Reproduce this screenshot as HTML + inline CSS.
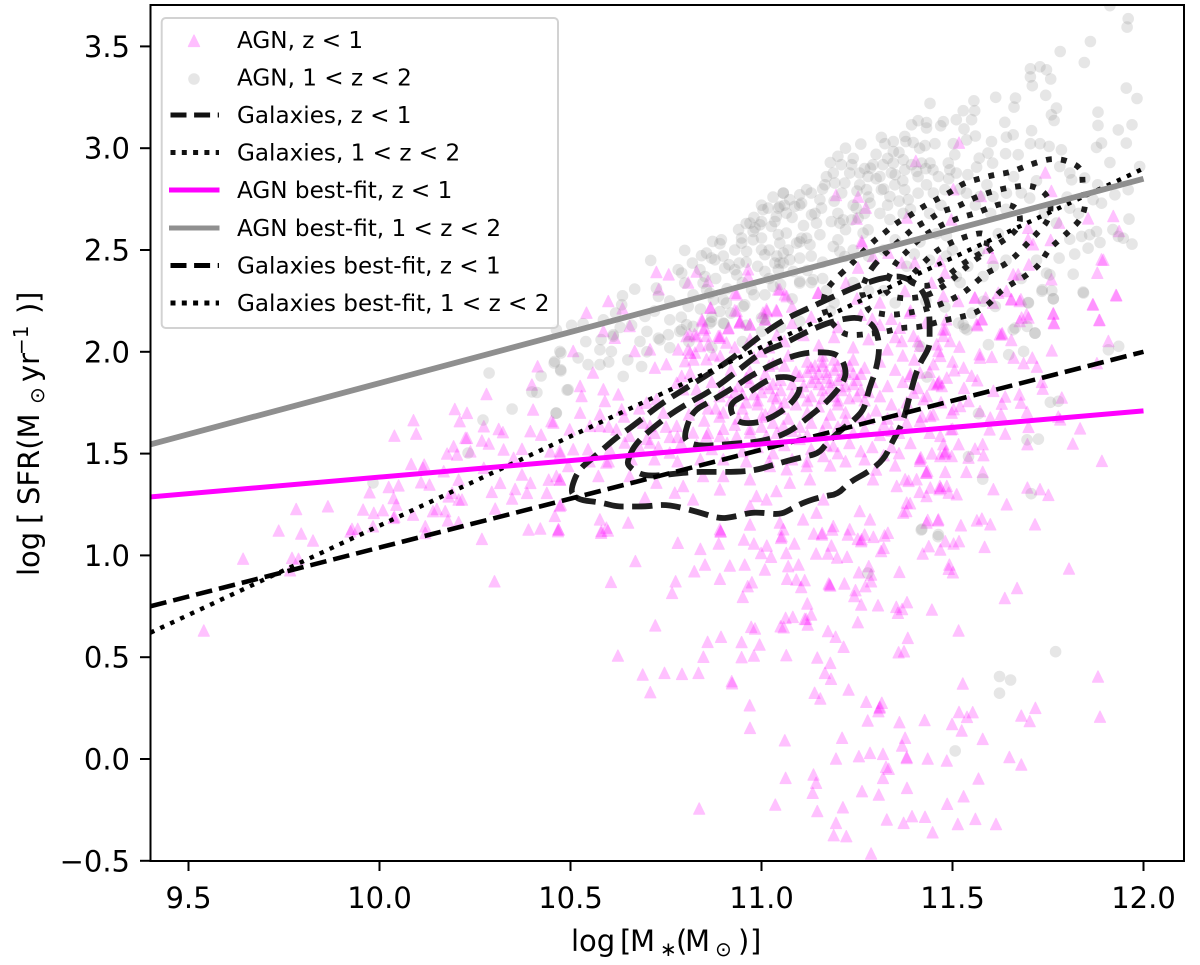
<!DOCTYPE html>
<html lang="en">
<head>
<meta charset="utf-8">
<title>SFR vs stellar mass</title>
<style>
html,body{margin:0;padding:0;background:#fff;}
svg{display:block;}
text{font-family:"DejaVu Sans","Liberation Sans",sans-serif;fill:#000;}
</style>
</head>
<body>
<svg id="chart" xmlns="http://www.w3.org/2000/svg" width="1200" height="965" viewBox="0 0 1200 965">
<defs><clipPath id="plot-clip"><rect x="151" y="6" width="1033" height="855"/></clipPath></defs>
<g id="marks" clip-path="url(#plot-clip)"></g>
<g id="axes"></g>
<g id="legend">
<rect x="161.7" y="18" width="396.3" height="310" rx="4" fill="#fff" fill-opacity="0.8" stroke="#d2d2d2" stroke-width="2"/>
<path d="M194 35 L199.6 46.5 L188.4 46.5 Z" fill="#f0f" opacity="0.25" stroke="#f0f" stroke-width="1.2" stroke-linejoin="round"/>
<circle cx="194" cy="79" r="5.8" fill="#808080" fill-opacity="0.2"/>
<line x1="170.5" x2="219" y1="115" y2="115" stroke="#111" stroke-width="5" stroke-dasharray="16 7.6"/>
<line x1="170.5" x2="219" y1="152.5" y2="152.5" stroke="#111" stroke-width="5" stroke-dasharray="5 6.3"/>
<line x1="169" x2="219.5" y1="190" y2="190" stroke="#f0f" stroke-width="5"/>
<line x1="169" x2="219.5" y1="228" y2="228" stroke="#909090" stroke-width="5"/>
<line x1="170.5" x2="219" y1="265.5" y2="265.5" stroke="#000" stroke-width="5" stroke-dasharray="16 7.6"/>
<line x1="170.5" x2="219" y1="303" y2="303" stroke="#000" stroke-width="5" stroke-dasharray="5 6.3"/>
<g font-size="23.1">
<text x="237" y="48">AGN, z &lt; 1</text>
<text x="237" y="85.5">AGN, 1 &lt; z &lt; 2</text>
<text x="237" y="123">Galaxies, z &lt; 1</text>
<text x="237" y="160.5">Galaxies, 1 &lt; z &lt; 2</text>
<text x="237" y="198">AGN best-fit, z &lt; 1</text>
<text x="237" y="236">AGN best-fit, 1 &lt; z &lt; 2</text>
<text x="237" y="273.5">Galaxies best-fit, z &lt; 1</text>
<text x="237" y="311">Galaxies best-fit, 1 &lt; z &lt; 2</text>
</g>
</g>
<text transform="translate(39,576) rotate(-90)" font-size="29"><tspan x="0">log</tspan><tspan x="52">[</tspan><tspan x="71">SFR(M</tspan><tspan x="172" dy="5" font-size="20">⊙</tspan><tspan x="194" dy="-5">yr</tspan><tspan x="221" dy="-11" font-size="20">−1</tspan><tspan x="262" dy="11">)</tspan><tspan x="273">]</tspan></text>
<text y="951" font-size="29"><tspan x="571">log</tspan><tspan x="620">[</tspan><tspan x="630">M</tspan><tspan x="660" dy="5" font-size="20">∗</tspan><tspan x="676" dy="-5">(</tspan><tspan x="685">M</tspan><tspan x="715" dy="5" font-size="20">⊙</tspan><tspan x="738" dy="-5">)</tspan><tspan x="750">]</tspan></text>
</svg>
<script>
const xTickValues = [9.5, 10.0, 10.5, 11.0, 11.5, 12.0];
const xTickLabels = ["9.5", "10.0", "10.5", "11.0", "11.5", "12.0"];
const yTickValues = [-0.5, 0, 0.5, 1.0, 1.5, 2.0, 2.5, 3.0, 3.5];
const yTickLabels = ["−0.5", "0.0", "0.5", "1.0", "1.5", "2.0", "2.5", "3.0", "3.5"];
const fitX = [9.4, 12.0];
const agnFitLow = [1.287, 1.71];
const agnFitHigh = [1.545, 2.85];
const galaxyFitLow = [0.75, 2.0];
const galaxyFitHigh = [0.62, 2.9];

const agnLowPoints = [
[10.467,1.117],[10.58,1.109],[10.598,1.12],[10.781,1.06],[10.84,1.03],[10.888,1.056],[10.893,1.117],[10.893,1.115],[10.67,0.97],[10.606,0.868],[10.775,0.871],[10.766,0.814],[10.824,0.92],[10.852,0.953],[10.917,0.948],[10.956,0.953],[10.891,0.883],[11.009,0.929],[10.954,1.076],[10.98,1.056],[11.014,1.046],[10.999,1.01],[11.025,0.991],[11.065,1.01],[11.086,1.056],[11.051,1.084],[11.053,1.092],[11.07,0.945],[11.097,0.953],[11.067,0.883],[11.091,0.879],[11.113,0.876],[11.104,0.843],[10.964,0.847],[10.975,0.866],[10.951,0.794],[11.143,1.007],[11.174,1.007],[11.183,1.046],[11.198,0.987],[11.224,0.991],[11.158,1.10],[11.159,1.108],[11.137,1.105],[11.185,1.125],
[11.226,1.10],[11.252,1.079],[11.27,1.10],[11.293,1.089],[11.322,1.096],[11.331,1.109],[11.261,1.068],[11.262,1.077],[11.313,1.019],[11.32,1.035],[11.422,1.007],[11.438,1.043],[11.468,1.027],[11.481,1.068],[11.503,1.056],[11.517,1.068],[11.584,1.04],[11.255,0.915],[11.281,0.945],[11.287,0.904],[11.287,0.871],[11.272,0.847],[11.361,0.917],[11.492,0.953],[11.49,0.932],[11.501,0.915],[11.178,0.855],[11.176,0.86],[11.18,0.85],[11.217,0.86],[11.246,0.827],[11.243,0.798],[11.261,0.757],[11.305,0.753],[11.353,0.745],[11.357,0.716],[11.368,0.735],[11.381,0.768],[11.446,0.732],[11.12,0.762],[11.13,0.708],[11.113,0.686],[11.117,0.686],[11.121,0.658],[11.082,0.696],[11.063,0.691],[11.252,0.67],[11.516,0.629],[11.669,0.838],[11.637,0.789],[10.722,0.654],
[10.973,0.647],[10.983,0.639],[11.05,0.65],[11.058,0.645],[11.174,0.626],[11.194,0.598],[11.215,0.549],[11.383,0.593],[11.373,0.527],[11.359,0.522],[10.894,0.598],[10.859,0.573],[10.948,0.572],[10.995,0.56],[10.948,0.498],[10.98,0.506],[10.848,0.5],[10.624,0.506],[11.065,0.508],[11.146,0.496],[11.18,0.47],[11.166,0.421],[11.182,0.392],[10.689,0.413],[10.746,0.421],[10.792,0.416],[10.835,0.421],[10.709,0.326],[10.922,0.38],[10.923,0.37],[11.228,0.339],[11.139,0.323],[11.154,0.295],[11.274,0.279],[11.315,0.274],[11.309,0.249],[11.31,0.255],[11.306,0.233],[10.969,0.262],[10.97,0.151],[11.527,0.369],[11.517,0.229],[11.538,0.205],[11.553,0.228],[11.499,0.17],[11.524,0.138],[11.427,0.189],[11.361,0.179],[11.278,0.187],[11.68,0.211],[11.717,0.249],[11.702,0.184],[11.579,0.097],[11.061,0.09],[11.211,0.102],[11.376,0.102],[11.368,0.064],
[11.195,0.0],[11.255,0.012],[11.284,0.028],[11.318,0.023],[11.38,0.003],[11.38,0.008],[11.435,0.0],[11.485,-0.01],[11.649,0.008],[11.68,-0.029],[11.326,-0.041],[11.333,-0.05],[11.318,-0.095],[11.063,-0.095],[11.136,-0.078],[11.143,-0.119],[11.134,-0.168],[11.568,-0.098],[11.381,-0.144],[11.263,-0.16],[11.307,-0.177],[11.529,-0.185],[11.486,-0.222],[10.837,-0.245],[11.036,-0.226],[11.146,-0.258],[11.213,-0.239],[11.328,-0.299],[11.372,-0.316],[11.394,-0.283],[11.428,-0.286],[11.514,-0.321],[11.56,-0.296],[11.614,-0.321],[11.448,-0.362],[11.195,-0.316],[11.189,-0.376],[11.222,-0.381],[11.287,-0.466],[11.805,0.933],[11.881,0.403],[11.886,0.206],
[11.928,2.277],[11.867,2.231],[11.885,2.154],[11.764,2.187],[11.766,2.138],[11.681,2.166],[11.699,2.166],[11.654,2.256],[11.679,2.256],[11.559,2.264],[11.577,2.158],[11.565,2.128],[11.629,2.084],[11.63,2.09],[11.654,2.056],[11.76,2.005],[11.908,2.051],[11.878,1.942],[11.571,1.986],[11.572,1.969],[11.603,1.973],[11.518,2.023],[11.494,2.051],[11.529,1.92],[11.505,1.907],[11.481,2.108],[11.476,2.076],[11.66,1.969],[11.686,1.942],[11.709,1.969],[11.721,1.925],[11.565,1.858],[11.734,1.85],[11.736,1.817],[11.786,1.773],[11.675,1.789],[11.679,1.748],[11.638,1.778],[11.629,1.743],[11.607,1.806],[11.695,1.703],[11.777,1.68],[11.782,1.666],[11.627,1.691],[11.599,1.675],[11.572,1.707],[11.699,1.629],[11.638,1.596],[11.834,1.622],[11.815,1.547],[11.696,1.544],[11.891,1.462],
[11.597,1.617],[11.496,1.617],[11.498,1.699],[11.503,1.716],[11.516,1.544],[11.579,1.544],[11.559,1.522],[11.581,1.49],[11.542,1.478],[11.498,1.486],[11.468,1.486],[11.446,1.499],[11.481,1.503],[11.483,1.51],[11.479,1.497],[11.476,1.544],[11.468,1.585],[11.415,1.473],[11.417,1.48],[11.431,1.405],[11.434,1.412],[11.481,1.408],[11.536,1.408],[11.579,1.408],[11.607,1.323],[11.696,1.331],[11.729,1.323],[11.751,1.295],[11.642,1.249],[11.716,1.151],[11.599,1.151],[11.577,1.179],[11.564,1.17],[11.522,1.146],[11.462,1.17],[11.435,1.172],[11.414,1.31],[11.442,1.331],[11.466,1.323],[11.469,1.33],[11.485,1.339],[11.511,1.298],[11.49,1.306],[11.389,1.254],[11.379,1.216],[11.376,1.372],[11.385,1.364],[11.463,1.846],[11.465,1.852],[11.46,1.84],[11.485,1.871],[11.45,1.838],[11.472,1.83],[11.45,1.937],[11.415,1.896],[11.389,1.879],[11.459,2.035],[11.463,2.002],[11.468,1.978],[11.398,2.076],[11.415,2.027],[11.367,2.051],[11.433,1.781],[11.424,1.765],[11.398,1.797],[11.45,1.691],[11.52,1.732],[11.542,1.756],[11.415,1.658],[11.442,1.683],
[9.54,0.629],[9.643,0.982],[9.736,1.12],[9.782,1.226],[9.795,1.105],[9.826,1.071],[9.865,1.239],[9.771,0.986],[9.788,0.981],[9.766,0.925],[9.928,1.128],[9.943,1.128],[9.924,1.116],[9.957,1.223],[9.985,1.207],[10.009,1.22],[9.974,1.308],[9.983,1.141],[10.037,1.182],[10.039,1.188],[10.024,1.334],[10.05,1.342],[10.037,1.28],[10.044,1.247],[10.088,1.198],[10.12,1.141],[10.12,1.108],[10.14,1.215],[10.15,1.226],[10.172,1.215],[10.179,1.17],[10.207,1.161],[10.083,1.447],[10.117,1.444],[10.114,1.428],[10.109,1.357],[10.131,1.346],[10.039,1.586],[10.089,1.662],[10.096,1.596],[10.168,1.411],[10.177,1.498],[10.203,1.493],[10.194,1.534],[10.225,1.575],[10.229,1.575],[10.238,1.509],[10.197,1.717],[10.229,1.698],[10.21,1.657],[10.28,1.791],[10.273,1.632],[10.312,1.619],[10.323,1.603],[10.286,1.547],[10.268,1.562],[10.325,1.518],[10.414,1.927],[10.399,1.837],[10.402,1.714],[10.45,1.657],[10.395,1.608],[10.423,1.591],[10.373,1.521],[10.351,1.477],[10.273,1.428],[10.373,1.395],[10.316,1.354],[10.355,1.324],[10.395,1.354],[10.443,1.37],[10.207,1.37],[10.19,1.305],[10.207,1.272],[10.216,1.272],[10.181,1.288],[10.294,1.31],[10.347,1.277],[10.386,1.305],[10.438,1.305],[10.473,1.37],[10.268,1.079],[10.303,1.228],[10.39,1.125],[10.421,1.13],[10.469,1.125],[10.301,0.871],[10.475,1.247],[10.447,1.509],[10.473,1.498],
[10.725,2.39],[10.757,2.378],[10.808,2.338],[10.83,2.392],[10.86,2.346],[10.965,2.403],[10.965,2.37],[10.731,2.305],[10.599,2.247],[10.636,2.211],[10.542,2.19],[10.586,2.1],[10.655,2.125],[10.93,2.288],[10.93,2.202],[10.867,2.215],[10.845,2.149],[10.852,2.116],[11.013,2.207],[11.039,2.203],[11.009,2.157],[11.048,2.305],[10.943,2.144],[10.97,2.133],[10.913,2.113],[10.812,2.084],[10.825,2.084],[10.856,2.076],[10.891,2.076],
[11.517,3.025],[11.404,2.935],[11.253,2.76],[11.195,2.768],[11.273,2.706],[11.249,2.652],[11.262,2.542],[11.38,2.657],[11.497,2.648],[11.574,2.763],[11.502,2.796],[11.743,2.878],[11.759,2.788],[11.921,2.665],[11.936,2.591],[11.855,2.653],[11.779,2.632],[11.698,2.607],[11.698,2.55],[11.711,2.526],[11.757,2.547],[11.89,2.452],[11.895,2.45],[11.879,2.386],[11.929,2.275],[11.605,2.46],[11.7,2.427],[11.593,2.509],[11.659,2.378],[11.672,2.378],[11.759,2.354],[11.868,2.231],[11.764,2.185],[11.765,2.141],[11.884,2.154],[11.676,2.247],[11.654,2.256],[11.641,2.296],[11.62,2.288],[11.558,2.264],[11.587,2.264],[11.606,2.239],[11.676,2.149],[11.694,2.182],[11.624,2.084],[11.576,2.157],[11.563,2.133],[11.515,2.247],[11.48,2.386],[11.467,2.444],[11.367,2.436],[11.253,2.411],[11.332,2.485],[11.292,2.468],[11.221,2.337],[11.148,2.288],[11.061,2.28],[11.401,2.436],[11.375,2.296],[11.445,2.337],[11.476,2.272],[11.388,2.19],[11.484,2.157],[11.476,2.108],[11.362,2.116],[11.29,2.16],[11.25,2.26],[11.31,2.24],[11.34,2.16],
[10.935,2.28],[10.866,2.214],[10.935,2.198],[10.944,2.149],[10.914,2.116],[10.887,2.075],[10.844,2.157],[10.848,2.108],[10.831,2.075],[10.804,2.075],[10.861,2.034],[10.97,2.132],[11.014,2.198],[11.04,2.198],[11.01,2.157],[11.044,2.304],[11.066,2.271],[11.149,2.288],[11.263,2.533],[10.813,1.993],[10.822,1.96],[10.8,1.952],[10.839,2.026],[10.874,1.985],[10.892,1.977],[10.791,1.879],[10.813,1.895],
[10.507,2.002],[10.559,1.896],[10.525,1.83],[10.586,1.814],[10.625,1.789],[10.529,1.781],[10.59,1.756],[10.616,2.067],[10.668,2.002],[10.708,2.01],[10.751,1.937],[10.721,1.92],[10.782,2.01],[10.808,2.01],[10.826,1.994],[10.856,1.961],[10.891,2.067],[10.943,2.141],[11.004,2.19],[10.908,2.043],[10.525,1.699],[10.577,1.691],[10.634,1.715],[10.725,1.765],[10.699,1.748],[10.778,1.846],[10.795,1.814],[10.83,1.814],[10.743,1.699],[10.708,1.634],[10.778,1.634],[10.69,1.65],[10.655,1.585],[10.62,1.617],[10.577,1.634],[10.551,1.634],[10.498,1.617],[10.455,1.65],
[10.472,1.511],[10.507,1.519],[10.546,1.519],[10.603,1.519],[10.642,1.552],[10.708,1.552],[10.76,1.503],[10.821,1.601],[10.856,1.584],[10.891,1.584],[10.935,1.584],[10.97,1.601],[11.013,1.584],[11.057,1.634],[10.472,1.372],[10.463,1.388],[10.494,1.437],[10.573,1.388],[10.594,1.454],[10.655,1.388],[10.725,1.355],[10.773,1.306],[10.795,1.339],[10.847,1.388],[10.891,1.322],[10.9,1.388],[10.97,1.372],[11.022,1.437],[11.066,1.421],[11.118,1.437],[11.162,1.486],[11.188,1.535],[10.459,1.192],[10.472,1.241],[10.577,1.175],[10.651,1.159],[10.594,1.134],[10.581,1.118],[10.468,1.126],[10.695,1.282],[10.821,1.273],[11.039,1.314],[10.987,1.29],[10.97,1.241],[11.013,1.273],[11.074,1.355],[11.127,1.372],[11.048,1.159],[11.057,1.126],[10.97,1.15],[10.891,1.126],[11.257,1.216],[11.284,1.175],[11.292,1.372],[11.354,1.339],[11.38,1.257],[11.406,1.372],[11.415,1.462],[11.432,1.404],[11.467,1.339],[11.432,1.29],[11.371,1.208],[11.463,1.175],[11.432,1.159],[11.231,1.126],[11.188,1.142],[11.144,1.208],[11.109,1.175],[11.162,1.273],
[11.02,2.02],[11.06,2.05],[11.11,2.08],[11.15,2.03],[11.19,2.07],[11.24,2.02],[11.28,2.06],[11.33,2.01],[11.37,1.98],[11.40,1.96],[10.98,1.97],[11.03,1.94],[11.07,1.98],[11.12,1.95],[11.16,1.98],[11.2,1.93],[11.24,1.96],[11.27,1.92],[11.31,1.95],[11.35,1.91],[11.39,1.89],[10.92,1.91],[10.96,1.87],[11.01,1.89],[11.05,1.86],[11.09,1.9],[11.13,1.92],[11.14,1.87],[11.17,1.9],[11.18,1.85],[11.21,1.88],[11.22,1.83],[11.25,1.86],[11.26,1.81],[11.29,1.85],[11.33,1.83],[11.37,1.85],[11.41,1.82],[10.87,1.85],[10.9,1.8],[10.94,1.83],[10.98,1.79],[11.02,1.82],[11.04,1.77],[11.08,1.79],[11.11,1.83],[11.13,1.78],[11.16,1.81],[11.19,1.78],[11.2,1.74],[11.23,1.77],[11.27,1.76],[11.31,1.78],[11.34,1.74],[11.38,1.75],[10.84,1.76],[10.88,1.72],[10.92,1.76],[10.95,1.72],[10.99,1.74],[11.01,1.69],[11.05,1.72],[11.09,1.74],[11.12,1.7],[11.15,1.73],[11.18,1.69],[11.22,1.7],[11.26,1.68],[11.3,1.71],[11.33,1.67],[11.36,1.69],[10.81,1.69],[10.85,1.66],[10.89,1.68],[10.93,1.64],[10.96,1.67],[11.0,1.63],[11.03,1.65],[11.07,1.67],[11.1,1.63],[11.13,1.65],[11.16,1.61],[11.2,1.63],[11.24,1.6],[11.27,1.62],[11.31,1.59],[11.34,1.61],[10.78,1.58],[10.83,1.54],[10.87,1.52],[10.91,1.55],[10.95,1.51],[10.99,1.53],[11.03,1.5],[11.06,1.54],[11.1,1.57],[11.13,1.52],[11.17,1.54],[11.2,1.5],[11.23,1.55],[11.26,1.51],[11.29,1.53],[11.32,1.49],[11.36,1.5],
[11.14,1.93],[11.17,1.87],[11.15,1.84],[11.19,1.91],[11.2,1.86],[11.22,1.9],[11.24,1.84],[11.18,1.82],[11.15,1.89],[11.13,1.85],[11.21,1.81],[11.24,1.89],[11.16,1.93],[10.97,1.85],[11.0,1.8],[11.03,1.84],[10.95,1.79],[10.99,1.76],[10.72,1.6],[10.75,1.63],[10.7,1.57],[10.76,1.58],[10.73,1.53],[10.79,1.55],[10.68,1.53],
[11.08,2.14],[11.13,2.17],[11.2,2.12],[11.26,2.18],[11.31,2.13],[11.35,2.07],[11.41,2.05],[11.43,2.14],[11.39,2.2],[11.08,2.22],[10.97,2.06],[10.93,2.02],[11.04,2.08],[11.0,2.0],[11.1,1.88],[11.12,1.9],[11.16,1.95],[11.19,1.96],[11.23,1.93],[11.26,1.89],[11.28,1.8],[11.25,1.78],[11.2,1.76],[11.16,1.77],[11.12,1.76],[11.1,1.8],[11.08,1.84],[11.05,1.81],[11.03,1.78],[11.0,1.84],[10.97,1.9],[11.02,1.93],[11.06,1.93],[11.06,1.75],[11.03,1.72],[11.0,1.68],[10.96,1.75],[10.93,1.8],[10.89,1.78],[10.86,1.72],[10.9,1.7],[10.94,1.67],[10.97,1.62],[10.9,1.62],[10.86,1.6],[11.04,1.6],[11.08,1.61],[11.12,1.59],[11.17,1.65],[11.22,1.66],[11.28,1.67],[11.32,1.64],[11.36,1.6],[11.38,1.65],[11.39,1.55],[11.34,1.53],[11.27,1.47],[11.22,1.46],[11.18,1.44],[11.12,1.46],[11.08,1.47],[11.02,1.46],[10.96,1.46],[10.9,1.47],[10.84,1.47],[10.78,1.46],[10.72,1.47],[10.66,1.47],[10.6,1.46],[10.55,1.46],[10.64,1.68],[10.68,1.72],[10.6,1.63],[11.3,1.42],[11.35,1.44],[11.42,1.68],[11.44,1.6],[11.5,1.62],[11.47,1.75],[11.53,1.82],[11.55,1.88],[11.5,1.95],[11.44,1.9]
];

const agnHighPoints = [
[11.912,3.70],[11.96,3.636],[11.957,3.595],[11.861,3.524],[11.782,3.475],[11.845,3.421],[11.955,3.295],[11.983,3.244],[11.704,3.39],[11.729,3.40],[11.746,3.385],[11.757,3.34],[11.704,3.35],[11.709,3.307],[11.744,3.26],[11.665,3.246],[11.661,3.202],[11.613,3.25],[11.556,3.233],[11.441,3.22],[11.558,3.184],[11.528,3.184],[11.55,3.14],[11.51,3.14],[11.53,3.095],[11.637,3.127],[11.772,3.197],[11.759,3.164],[11.766,3.136],[11.881,3.177],[11.881,3.112],[11.934,3.09],[11.97,3.115],[11.707,3.086],[11.659,3.066],[11.641,3.054],[11.56,3.06],[11.476,3.13],[11.469,3.11],[11.432,3.126],[11.432,3.099],[11.41,3.135],[11.393,3.115],[11.314,3.053],[11.323,3.022],[11.345,3.033],[11.345,2.984],[11.375,3.058],[11.378,3.033],[11.397,3.028],[11.414,3.0],[11.428,3.013],[11.454,3.022],[11.502,3.022],[11.537,3.041],[11.602,3.033],[11.704,3.022],[11.729,3.022],[11.753,3.009],[11.785,2.992],[11.89,3.025],[11.877,3.004],[11.955,3.025],[11.912,2.93],[11.99,2.91],[11.672,2.968],[11.639,2.973],[11.593,2.976],[11.57,2.951],[11.605,2.927],[11.563,2.907],[11.506,2.968],[11.489,2.927],[11.493,2.894],[11.51,2.878],[11.441,2.927],[11.449,2.894],[11.406,2.886],[11.419,2.927],[11.371,2.943],[11.375,2.894],[11.393,2.919],[11.345,2.927],[11.318,2.919],[11.292,2.919],[11.285,2.902],[11.31,2.861],[11.34,2.878],[11.236,2.919],[11.209,2.919],[11.231,2.878],[11.257,2.878],[11.188,2.878],[11.166,2.82],[11.192,2.829],[11.218,2.829],[11.279,2.861],[11.275,2.796],[11.257,2.82],[11.314,2.796],[11.336,2.763],[11.349,2.82],[11.375,2.796],[11.41,2.779],[11.384,2.747],[11.432,2.82],[11.463,2.861],[11.48,2.796],[11.537,2.779],[11.572,2.763],[11.606,2.763],[11.641,2.779],[11.702,2.755],[11.781,2.91],[11.807,2.878],[11.846,2.853],[11.812,2.845],[11.96,2.796],[11.925,2.771],[11.89,2.73],[11.868,2.747],[11.807,2.706],[11.772,2.632],[11.962,2.652],[11.877,2.591],[11.859,2.575],[11.838,2.567],[11.807,2.553],[11.934,2.567],[11.947,2.558],[11.97,2.529],[11.886,2.537],[11.855,2.509],[11.82,2.48],[11.779,2.46],[11.746,2.386],[11.755,2.378],[11.816,2.381],[11.735,2.305],[11.842,2.293],[11.764,2.26],[11.698,2.242],[11.716,2.092],[11.659,2.108],[11.532,2.116],[11.528,2.133],
[11.057,2.779],[11.074,2.747],[11.087,2.714],[11.105,2.73],[11.065,2.681],[11.048,2.714],[11.153,2.747],[11.157,2.706],[11.131,2.673],[11.118,2.796],[11.1,2.771],[11.183,2.64],[11.205,2.632],[11.214,2.648],[11.236,2.648],[11.253,2.657],[11.144,2.632],[11.153,2.575],[11.105,2.558],[11.092,2.534],[11.118,2.558],[11.127,2.526],[11.188,2.517],[11.205,2.493],[11.218,2.468],[11.074,2.452],[11.1,2.46],[11.057,2.485],[11.048,2.436],[11.083,2.395],[11.279,2.599],[11.266,2.583],[11.371,2.68],[11.336,2.65],[11.31,2.68],[11.284,2.73],[11.248,2.706],[11.135,2.354],[11.1,2.346],[11.52,2.34],[11.484,2.57],[11.57,2.49],[11.62,2.58],[11.607,2.42],[11.51,2.37],[11.458,2.58],[11.415,2.54],[11.38,2.42],[11.484,2.47],
[11.057,2.78],[11.004,2.698],[11.017,2.706],[11.044,2.706],[11.039,2.665],[11.035,2.64],[11.0,2.64],[10.983,2.608],[10.996,2.624],[10.97,2.632],[10.978,2.591],[11.026,2.616],[11.044,2.575],[11.065,2.583],[11.048,2.534],[11.0,2.559],[10.978,2.55],[10.948,2.559],[10.948,2.534],[10.961,2.493],[11.0,2.501],[11.009,2.477],[10.895,2.55],[10.872,2.542],[10.891,2.531],[10.799,2.498],[10.856,2.485],[10.843,2.472],[10.869,2.46],[10.878,2.452],[10.71,2.449],[10.819,2.436],[10.782,2.403],[10.791,2.387],[10.904,2.411],[10.915,2.428],[10.93,2.403],[10.942,2.436],[10.935,2.378],[11.009,2.395],[11.035,2.436],[11.057,2.436],[11.044,2.403],[10.839,2.403],[10.852,2.37],[10.847,2.338],[10.856,2.305],[10.725,2.313],[10.73,2.272],[10.668,2.308],[10.636,2.275],[10.634,2.231],[10.618,2.19],[10.821,2.28],[10.808,2.223],[10.874,2.256],[10.9,2.256],[10.908,2.239],[10.956,2.231],[10.974,2.305],[11.009,2.28],[11.03,2.321],[10.695,2.174],[10.586,2.157],[10.503,2.13],[10.533,2.138],[10.76,2.157],[10.804,2.133],[10.821,2.125],[10.786,2.1],[10.756,2.084],[10.73,2.067],[10.869,2.149],[10.891,2.198],[10.902,2.138],[11.0,2.166],[11.009,2.157],[10.612,2.084],
[10.287,1.896],[10.423,1.881],[10.457,1.945],[10.475,1.994],[10.475,1.906],[10.491,1.812],[10.399,1.803],[10.412,1.80],[10.347,1.719],[10.271,1.665],[10.462,1.699],[10.232,1.503],[9.983,1.356],
[10.463,2.108],[10.577,2.01],[10.472,2.002],[10.459,1.953],[10.474,1.912],[10.546,1.937],[10.577,1.937],[10.607,2.002],[10.612,2.076],[10.686,1.928],[10.638,1.879],[10.494,1.814],[10.463,1.699],[10.791,2.108],[10.734,2.059],[10.682,2.051],[10.865,2.141],[10.9,2.141],[10.952,2.223],[11.1,2.338],[10.799,2.338],[10.865,2.288],[11.13,2.34],[11.17,2.3],
[11.734,2.297],[11.764,2.261],[11.843,2.289],[11.699,2.24],[11.716,2.092],[11.664,2.117],[11.695,2.125],[11.612,2.223],[11.581,2.248],[11.551,2.19],[11.516,2.141],[11.538,2.108],[11.594,2.035],[11.647,1.986],[11.686,2.002],[11.908,2.01],[11.935,2.027],[11.756,1.752],[11.777,1.757],[11.568,1.696],[11.695,1.568],[11.725,1.571],[11.542,1.486],[11.579,1.375],[11.706,1.303],[11.42,1.129],[11.463,1.102],[11.433,1.876],[11.415,2.027],
[11.278,0.913],[11.418,1.125],[11.462,1.092],[11.623,0.405],[11.652,0.388],[11.623,0.323],[11.507,0.04],[11.77,0.527],
[11.03,2.76],[11.06,2.72],[11.08,2.66],[11.1,2.72],[11.11,2.62],[11.14,2.68],[11.13,2.78],[11.16,2.8],[11.17,2.86],[11.19,2.74],[11.21,2.78],[11.2,2.68],[11.22,2.6],[11.24,2.72],[11.25,2.79],[11.27,2.68],[11.28,2.76],[11.27,2.9],[11.24,2.95],[11.2,2.96],[11.18,2.93],[11.22,3.0],[11.26,3.02],[11.3,2.97],[11.33,2.95],[11.36,2.98],[11.3,2.85],[11.32,2.8],[11.35,2.87],[11.37,2.84],[11.33,2.72],[11.36,2.74],[11.39,2.7],[11.41,2.86],[11.43,2.9],[11.45,2.78],[11.47,2.72],[11.44,2.68],[11.49,2.85],[11.52,2.8],[11.54,2.87],[11.56,2.72],[11.59,2.82],[11.6,2.68],[11.64,2.7],[11.66,2.86],[11.68,2.78],[11.72,2.84],[11.74,2.68],[11.8,2.76],[11.83,2.68],[11.88,2.82],[11.92,2.6],
[11.0,2.72],[10.98,2.66],[10.96,2.63],[10.94,2.6],[10.93,2.5],[10.9,2.47],[10.96,2.44],[10.99,2.42],[11.02,2.5],[11.04,2.47],[11.07,2.5],[11.1,2.54],[11.13,2.47],[11.16,2.44],[11.2,2.55],[11.24,2.5],[11.28,2.47],[11.32,2.5],[11.35,2.55],[11.4,2.48],[11.44,2.45],[11.5,2.5],[11.54,2.42],[11.58,2.37],[11.64,2.45],[11.68,2.36],[11.72,2.45],[11.76,2.3],
[10.88,2.36],[10.91,2.31],[10.95,2.34],[10.98,2.28],[11.02,2.36],[11.05,2.33],[11.08,2.26],[11.12,2.4],[11.16,2.36],[11.19,2.24],[11.24,2.34],[11.28,2.3],[11.32,2.3],[11.35,2.24],[11.43,2.25],[11.48,2.22],
[10.72,2.2],[10.76,2.25],[10.79,2.17],[10.84,2.21],[10.87,2.17],[10.92,2.19],[10.96,2.13],[11.0,2.1],[10.66,2.13],[10.7,2.1],[10.63,2.12],[10.58,2.06],[10.54,2.05],[10.52,1.97],[10.6,1.95],[10.65,1.96],[10.7,2.0],[10.76,2.02],[10.81,2.05],[10.87,2.02],[10.95,2.05],[11.05,2.12],[11.1,2.15],[11.18,2.2]
];

const galaxyLowContours = [
[[10.50,1.32],[10.52,1.42],[10.56,1.48],[10.62,1.58],[10.66,1.63],[10.74,1.75],[10.81,1.83],[10.92,1.96],[10.99,2.07],[11.06,2.16],[11.13,2.22],[11.21,2.29],[11.29,2.35],[11.34,2.37],[11.37,2.37],[11.41,2.33],[11.43,2.27],[11.44,2.19],[11.44,2.07],[11.44,2.02],[11.41,1.93],[11.39,1.80],[11.37,1.65],[11.34,1.55],[11.32,1.47],[11.28,1.41],[11.23,1.36],[11.20,1.30],[11.16,1.29],[11.11,1.26],[11.08,1.23],[11.05,1.20],[11.00,1.21],[10.97,1.21],[10.93,1.19],[10.89,1.18],[10.84,1.21],[10.78,1.24],[10.74,1.25],[10.70,1.24],[10.65,1.24],[10.62,1.24],[10.58,1.26],[10.53,1.27],[10.51,1.29],[10.50,1.32]],
[[10.65,1.47],[10.65,1.44],[10.68,1.40],[10.71,1.39],[10.77,1.40],[10.82,1.41],[10.87,1.41],[10.94,1.41],[10.99,1.42],[11.04,1.45],[11.10,1.48],[11.15,1.50],[11.17,1.55],[11.21,1.62],[11.24,1.66],[11.27,1.72],[11.28,1.81],[11.30,1.91],[11.31,2.02],[11.30,2.11],[11.28,2.15],[11.25,2.17],[11.21,2.16],[11.17,2.14],[11.12,2.10],[11.06,2.04],[11.00,2.00],[10.94,1.91],[10.87,1.81],[10.79,1.73],[10.73,1.65],[10.67,1.55],[10.65,1.47]],
[[10.80,1.61],[10.80,1.56],[10.83,1.54],[10.87,1.54],[10.94,1.55],[11.00,1.56],[11.07,1.60],[11.13,1.69],[11.17,1.75],[11.22,1.86],[11.22,1.93],[11.20,1.99],[11.15,2.00],[11.10,1.99],[11.04,1.95],[10.97,1.88],[10.94,1.84],[10.87,1.76],[10.82,1.71],[10.80,1.61]],
[[10.92,1.75],[10.92,1.70],[10.94,1.65],[10.99,1.65],[11.03,1.68],[11.07,1.73],[11.10,1.80],[11.10,1.85],[11.07,1.88],[11.02,1.87],[10.96,1.79],[10.92,1.75]]
];

const galaxyHighContours = [
[[11.20,2.37],[11.17,2.31],[11.16,2.24],[11.17,2.17],[11.21,2.09],[11.24,2.08],[11.29,2.09],[11.33,2.10],[11.37,2.12],[11.41,2.12],[11.45,2.14],[11.49,2.16],[11.52,2.17],[11.56,2.19],[11.60,2.24],[11.62,2.29],[11.66,2.34],[11.69,2.37],[11.73,2.43],[11.75,2.50],[11.78,2.55],[11.81,2.60],[11.84,2.66],[11.85,2.74],[11.84,2.82],[11.84,2.90],[11.80,2.94],[11.76,2.95],[11.72,2.93],[11.69,2.91],[11.65,2.88],[11.61,2.87],[11.57,2.85],[11.53,2.83],[11.50,2.79],[11.46,2.75],[11.42,2.71],[11.39,2.67],[11.35,2.63],[11.32,2.58],[11.29,2.54],[11.23,2.42],[11.20,2.37]],
[[11.28,2.39],[11.26,2.30],[11.27,2.26],[11.28,2.20],[11.30,2.19],[11.34,2.18],[11.38,2.19],[11.41,2.20],[11.45,2.22],[11.49,2.25],[11.53,2.29],[11.56,2.34],[11.59,2.39],[11.63,2.42],[11.66,2.46],[11.69,2.52],[11.72,2.58],[11.75,2.64],[11.76,2.72],[11.74,2.79],[11.70,2.82],[11.66,2.81],[11.63,2.80],[11.59,2.78],[11.55,2.75],[11.51,2.71],[11.47,2.69],[11.44,2.65],[11.40,2.61],[11.37,2.56],[11.31,2.46],[11.28,2.39]],
[[11.32,2.31],[11.33,2.29],[11.34,2.27],[11.38,2.26],[11.42,2.27],[11.45,2.29],[11.49,2.34],[11.52,2.39],[11.55,2.44],[11.59,2.49],[11.62,2.53],[11.66,2.58],[11.68,2.64],[11.67,2.71],[11.63,2.73],[11.60,2.71],[11.56,2.68],[11.52,2.66],[11.48,2.63],[11.45,2.60],[11.41,2.55],[11.38,2.49],[11.35,2.44],[11.32,2.31]],
[[11.38,2.35],[11.40,2.39],[11.43,2.45],[11.46,2.50],[11.50,2.54],[11.54,2.57],[11.59,2.59],[11.59,2.50],[11.55,2.46],[11.51,2.41],[11.48,2.36],[11.45,2.33],[11.42,2.32],[11.38,2.35]]
];

const NS = 'http://www.w3.org/2000/svg';
const xScale = v => 188.5 + (v - 9.5) * 382;
const yScale = v => 759 - v * 203.6;
const marks = document.getElementById('marks');
const axes = document.getElementById('axes');

function make(tag, attrs, parent) {
  const el = document.createElementNS(NS, tag);
  for (const k in attrs) el.setAttribute(k, attrs[k]);
  parent.appendChild(el);
  return el;
}
function smoothClosedPath(points) {
  const pts = points.slice(0, -1).map(p => [xScale(p[0]), yScale(p[1])]);
  const n = pts.length;
  const mid = (a, b) => ((a[0] + b[0]) / 2).toFixed(1) + ' ' + ((a[1] + b[1]) / 2).toFixed(1);
  let d = 'M' + mid(pts[n - 1], pts[0]);
  for (let i = 0; i < n; i++) {
    d += ' Q' + pts[i][0].toFixed(1) + ' ' + pts[i][1].toFixed(1) + ' ' + mid(pts[i], pts[(i + 1) % n]);
  }
  return d;
}

agnLowPoints.forEach(p => {
  const cx = xScale(p[0]), cy = yScale(p[1]);
  const el = make('path', {
    d: 'M' + cx.toFixed(1) + ' ' + (cy - 6).toFixed(1) + ' l5.5 11.2 l-11 0 Z',
    fill: '#f0f', stroke: '#f0f', 'stroke-width': 1.2, 'stroke-linejoin': 'round', opacity: 0.24
  }, marks);
  
  
});
agnHighPoints.forEach(p => {
  const el = make('circle', {
    cx: xScale(p[0]).toFixed(1), cy: yScale(p[1]).toFixed(1), r: 5.8, fill: '#808080', 'fill-opacity': 0.2
  }, marks);
  
  
});
galaxyLowContours.forEach(c => {
  const el = make('path', {
    d: smoothClosedPath(c), fill: 'none', stroke: '#1e1e1e', 'stroke-width': 5.8, 'stroke-dasharray': '20 8.6', 'stroke-linejoin': 'round'
  }, marks);
  
  
});
galaxyHighContours.forEach(c => {
  const el = make('path', {
    d: smoothClosedPath(c), fill: 'none', stroke: '#1e1e1e', 'stroke-width': 5.8, 'stroke-dasharray': '5.8 9.2', 'stroke-linejoin': 'round'
  }, marks);
  
  
});

function fitLine(values, color, width, dash) {
  const el = make('line', {
    x1: xScale(fitX[0]), y1: yScale(values[0]), x2: xScale(fitX[1]), y2: yScale(values[1]),
    stroke: color, 'stroke-width': width
  }, marks);
  if (dash) el.setAttribute('stroke-dasharray', dash);
  return el;
}
const fitGalaxyHigh = fitLine(galaxyFitHigh, '#000', 4.4, '4.4 6.6');


const fitGalaxyLow = fitLine(galaxyFitLow, '#000', 4.6, '16.6 7');


const fitAgnHigh = fitLine(agnFitHigh, '#8f8f8f', 5.8);


const fitAgnLow = fitLine(agnFitLow, '#f0f', 5);



const frame = make('rect', { x: 150.5, y: 5, width: 1033.5, height: 856, fill: 'none', stroke: '#000', 'stroke-width': 2 }, axes);



xTickValues.forEach((v, i) => {
  const tick = make('line', { x1: xScale(v), x2: xScale(v), y1: 861, y2: 871, stroke: '#000', 'stroke-width': 2 }, axes);
  
  
  const lab = make('text', { x: xScale(v), y: 908, 'text-anchor': 'middle', 'font-size': 29 }, axes);
  lab.textContent = xTickLabels[i];
  
  
});
yTickValues.forEach((v, i) => {
  const tick = make('line', { x1: 140, x2: 150, y1: yScale(v), y2: yScale(v), stroke: '#000', 'stroke-width': 2 }, axes);
  
  
  const lab = make('text', { x: 130, y: yScale(v) + 10.5, 'text-anchor': 'end', 'font-size': 29 }, axes);
  lab.textContent = yTickLabels[i];
  
  
});
</script>
</body>
</html>
